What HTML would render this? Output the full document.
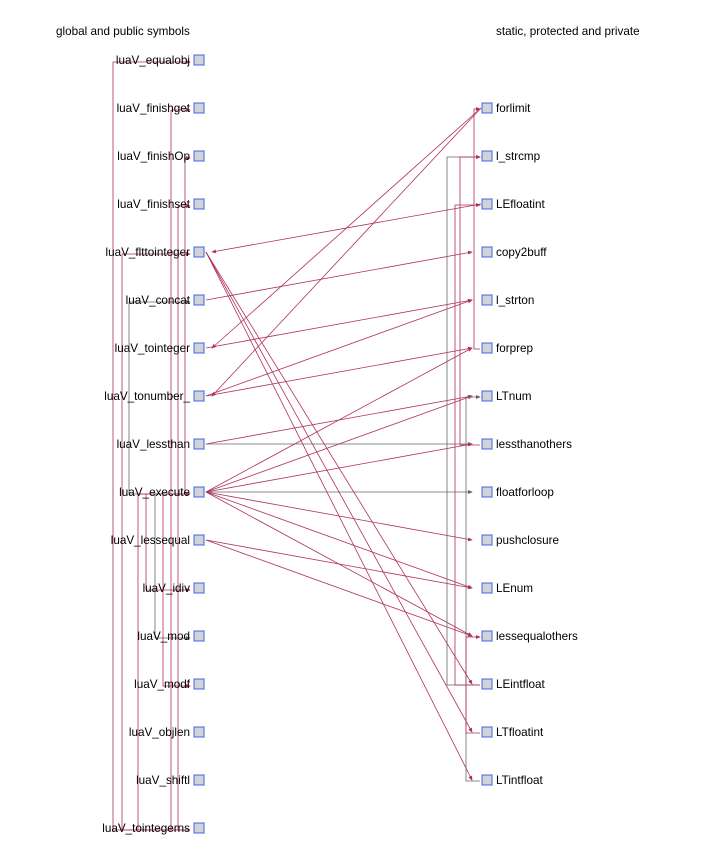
<!DOCTYPE html>
<html><head><meta charset="utf-8"><style>
html,body{margin:0;padding:0;background:#fff}
svg{display:block}
text{font-family:"Liberation Sans",sans-serif;font-size:11.7px;fill:#000}
</style></head><body>
<svg id="g" width="720" height="861" viewBox="0 0 720 861" xmlns="http://www.w3.org/2000/svg">
<defs><marker id="ar" markerWidth="6" markerHeight="6" refX="5" refY="3" orient="auto"><path d="M0,0.5 L6,3 L0,5.5z" fill="#b03060"/></marker>
<marker id="ag" markerWidth="6" markerHeight="6" refX="5" refY="3" orient="auto"><path d="M0,0.5 L6,3 L0,5.5z" fill="#666"/></marker></defs>
<text x="56" y="35">global and public symbols</text>
<text x="496" y="35">static, protected and private</text>
<g id="edges"></g><g id="nodes"></g>
</svg>
<script>
const leftNames=["luaV_equalobj","luaV_finishget","luaV_finishOp","luaV_finishset","luaV_flttointeger","luaV_concat","luaV_tointeger","luaV_tonumber_","luaV_lessthan","luaV_execute","luaV_lessequal","luaV_idiv","luaV_mod","luaV_modf","luaV_objlen","luaV_shiftl","luaV_tointegerns"];
const rightNames=["forlimit","l_strcmp","LEfloatint","copy2buff","l_strton","forprep","LTnum","lessthanothers","floatforloop","pushclosure","LEnum","lessequalothers","LEintfloat","LTfloatint","LTintfloat"];
// cross edges: [fromSide, fromIndex, toSide, toIndex, color]
const crossEdges=[["R",0,"L",6,"r"],["R",0,"L",7,"r"],["R",2,"L",4,"r"],["L",5,"R",3,"r"],["L",6,"R",4,"r"],["L",7,"R",4,"r"],["L",7,"R",5,"r"],["L",8,"R",6,"r"],["L",8,"R",7,"g"],["L",9,"R",5,"r"],["L",9,"R",6,"r"],["L",9,"R",7,"r"],["L",9,"R",8,"g"],["L",9,"R",9,"r"],["L",9,"R",10,"r"],["L",9,"R",11,"r"],["L",10,"R",10,"r"],["L",10,"R",11,"r"],["L",4,"R",12,"r"],["L",4,"R",13,"r"],["L",4,"R",14,"r"]];
// left orthogonal edges: [fromIndex, toIndex, columnX, color]
const leftOrtho=[[16,0,113,"r"],[16,4,122,"r"],[9,5,129,"g"],[16,9,138,"r"],[9,11,146,"r"],[9,12,155,"g"],[9,13,163,"r"],[16,1,171,"r"],[16,3,178,"r"],[9,2,185,"r"]];
// right orthogonal edges
const rightOrtho=[[12,1,447,"g"],[12,2,455,"r"],[7,1,460,"r"],[14,6,466,"g"],[5,0,474,"r"],[13,11,466,"r"]];
const NS="http://www.w3.org/2000/svg";
const ly=i=>60+48*i, ry=i=>108+48*i;
const E=document.getElementById('edges'),N=document.getElementById('nodes');
function col(c){return c==="r"?"#b03060":"#666";}
function mk(tag,a){const e=document.createElementNS(NS,tag);for(const k in a)e.setAttribute(k,a[k]);return e;}
crossEdges.forEach(([fs,fi,ts,ti,c])=>{
 const x1=fs==="L"?206:481,y1=fs==="L"?ly(fi):ry(fi);
 const x2=ts==="L"?212:472,y2=ts==="L"?ly(ti):ry(ti);
 const p=mk('line',{x1:x1,y1:y1,x2:x2,y2:y2,stroke:col(c),'stroke-width':0.8,'marker-end':c==="r"?"url(#ar)":"url(#ag)"});
 
 
 E.appendChild(p);
});
leftOrtho.forEach(([f,t,x,c])=>{
 const yf=ly(f)+2,yt=ly(t)+2;
 const p=mk('path',{d:`M190,${yf} H${x} V${yt} H190`,fill:'none',stroke:col(c),'stroke-width':0.8,'marker-end':c==="r"?"url(#ar)":"url(#ag)"});
 
 
 E.appendChild(p);
});
rightOrtho.forEach(([f,t,x,c])=>{
 const yf=ry(f)+1,yt=ry(t)+1;
 const p=mk('path',{d:`M480,${yf} H${x} V${yt} H480`,fill:'none',stroke:col(c),'stroke-width':0.8,'marker-end':c==="r"?"url(#ar)":"url(#ag)"});
 
 
 E.appendChild(p);
});
leftNames.forEach((n,i)=>{
 const r=mk('rect',{x:194,y:ly(i)-5,width:10,height:10,fill:'#d3d3d3',stroke:'#3366ff','stroke-width':1});
 
 
 N.appendChild(r);
 const t=mk('text',{x:190,y:ly(i)+4,'text-anchor':'end'});t.textContent=n;
 
 
 N.appendChild(t);
});
rightNames.forEach((n,i)=>{
 const r=mk('rect',{x:482,y:ry(i)-5,width:10,height:10,fill:'#d3d3d3',stroke:'#3366ff','stroke-width':1});
 
 
 N.appendChild(r);
 const t=mk('text',{x:496,y:ry(i)+4});t.textContent=n;
 
 
 N.appendChild(t);
});
</script>
</body></html>
